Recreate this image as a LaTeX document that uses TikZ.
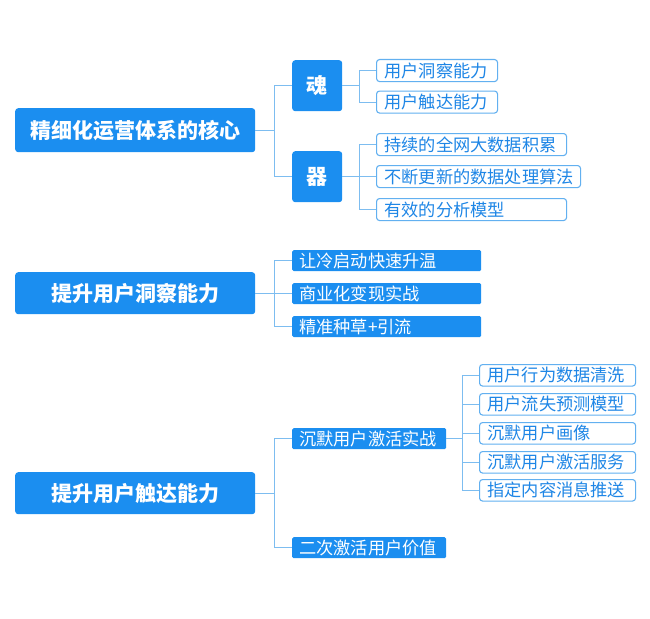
\documentclass[tikz,border=0pt]{standalone}
\usepackage{fontspec}
\setmainfont{Noto Sans CJK SC}
\definecolor{mainblue}{HTML}{1B8EF0}
\definecolor{lineblue}{HTML}{7DBDF0}
\definecolor{leafborder}{HTML}{62B0F0}
\definecolor{leaftext}{HTML}{1E86E6}
\tikzset{
  rootbox/.style={fill=mainblue, rounded corners=3pt, text=white, font=\fontsize{21}{21}\selectfont\bfseries, inner sep=0pt, anchor=north west},
  midbox/.style={fill=mainblue, rounded corners=3pt, text=white, font=\fontsize{21}{21}\selectfont\bfseries, inner sep=0pt, anchor=north west},
  filledleaf/.style={fill=mainblue, rounded corners=1.5pt, text=white, font=\fontsize{17.2}{17.2}\selectfont, inner xsep=7pt, inner ysep=0pt, anchor=north west, align=left},
  leaf/.style={draw=leafborder, line width=1.1pt, fill=white, rounded corners=3pt, text=leaftext, font=\fontsize{17.2}{17.2}\selectfont, inner xsep=8pt, inner ysep=0pt, anchor=north west, align=left},
  conn/.style={draw=lineblue, line width=1.1pt},
}
\begin{document}
\begin{tikzpicture}[x=1pt,y=-1pt]
\useasboundingbox (0,0) rectangle (650,618);
% group 1
\node[rootbox, minimum width=240pt, minimum height=44pt] (r1) at (15,108) {精细化运营体系的核心};
\node[midbox, minimum width=50pt, minimum height=51pt] (soul) at (292,60) {魂};
\node[midbox, minimum width=50pt, minimum height=51pt] (tool) at (292,151) {器};
\node[leaf, minimum height=22pt, text width=105pt] (s1) at (376,59) {用户洞察能力};
\node[leaf, minimum height=22pt, text width=105pt] (s2) at (376,90.5) {用户触达能力};
\node[leaf, minimum height=22pt, text width=174pt] (t1) at (376,133) {持续的全网大数据积累};
\node[leaf, minimum height=22pt, text width=188pt] (t2) at (376,165) {不断更新的数据处理算法};
\node[leaf, minimum height=22pt, text width=174pt] (t3) at (376,198) {有效的分析模型};
\draw[conn] (r1.east) -- ++(19,0) |- (soul.west);
\draw[conn] (r1.east) -- ++(19,0) |- (tool.west);
\draw[conn] (soul.east) -- ++(17,0) |- (s1.west);
\draw[conn] (soul.east) -- ++(17,0) |- (s2.west);
\draw[conn] (tool.east) -- ++(17,0) |- (t1.west);
\draw[conn] (tool.east) -- ++(17,0) |- (t2.west);
\draw[conn] (tool.east) -- ++(17,0) |- (t3.west);
% group 2
\node[rootbox, minimum width=240pt, minimum height=42pt] (r2) at (15,272) {提升用户洞察能力};
\node[filledleaf, minimum height=21pt, text width=175pt] (i1) at (292,250) {让冷启动快速升温};
\node[filledleaf, minimum height=21pt, text width=175pt] (i2) at (292,283) {商业化变现实战};
\node[filledleaf, minimum height=21pt, text width=175pt] (i3) at (292,316) {精准种草+引流};
\draw[conn] (r2.east) -- ++(19,0) |- (i1.west);
\draw[conn] (r2.east) -- ++(19,0) |- (i2.west);
\draw[conn] (r2.east) -- ++(19,0) |- (i3.west);
% group 3
\node[rootbox, minimum width=240pt, minimum height=42pt] (r3) at (15,472) {提升用户触达能力};
\node[filledleaf, minimum height=21pt, text width=140pt] (a1) at (292,428) {沉默用户激活实战};
\node[filledleaf, minimum height=21pt, text width=140pt] (a2) at (292,537) {二次激活用户价值};
\node[leaf, minimum height=21.5pt, text width=140pt] (b1) at (479,364) {用户行为数据清洗};
\node[leaf, minimum height=21.5pt, text width=140pt] (b2) at (479,393) {用户流失预测模型};
\node[leaf, minimum height=21.5pt, text width=140pt] (b3) at (479,422) {沉默用户画像};
\node[leaf, minimum height=21.5pt, text width=140pt] (b4) at (479,451) {沉默用户激活服务};
\node[leaf, minimum height=21.5pt, text width=140pt] (b5) at (479,479) {指定内容消息推送};
\draw[conn] (r3.east) -- ++(19,0) |- (a1.west);
\draw[conn] (r3.east) -- ++(19,0) |- (a2.west);
\foreach \n in {b1,b2,b3,b4,b5}{
  \draw[conn] (a1.east) -- ++(16,0) |- (\n.west);
}
\end{tikzpicture}
\end{document}
